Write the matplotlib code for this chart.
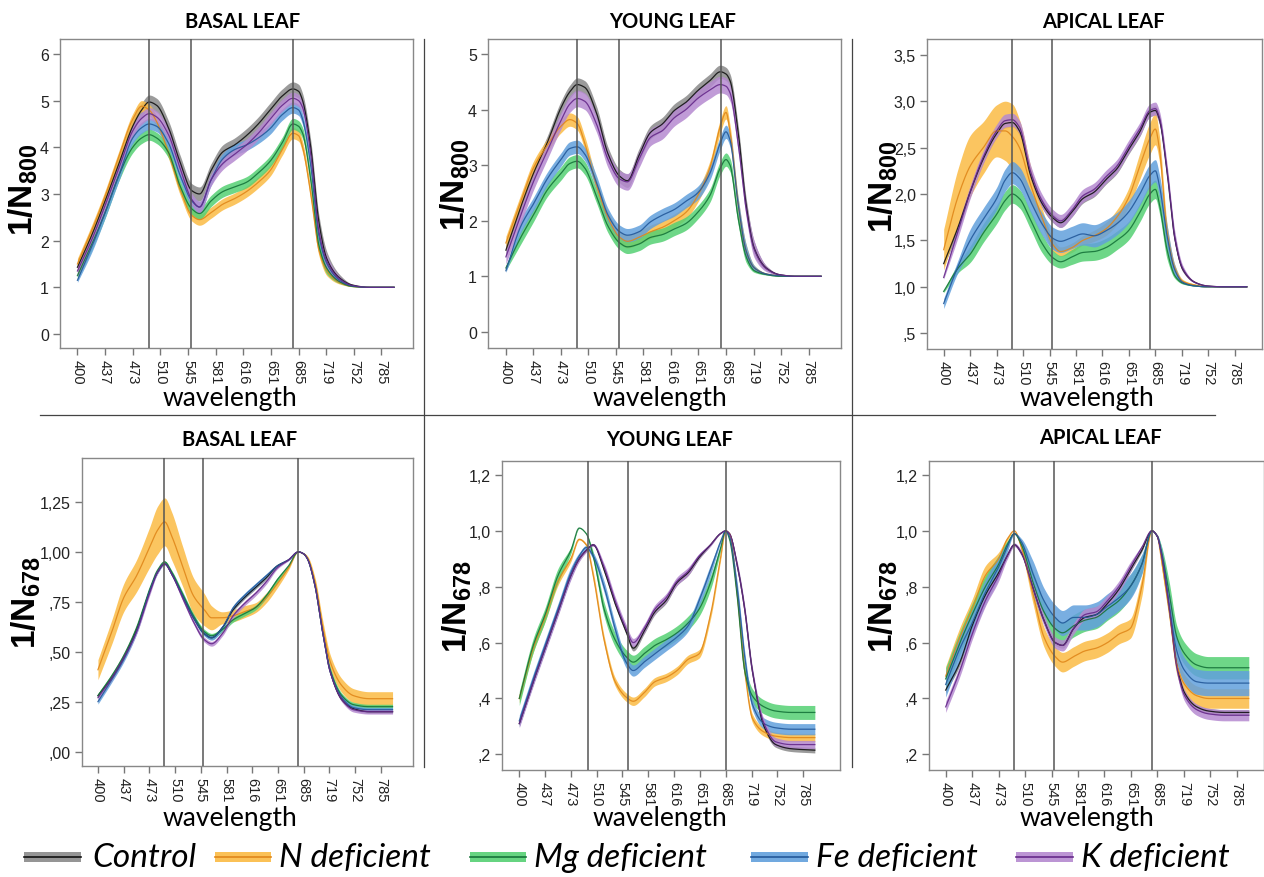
import numpy as np
import matplotlib
matplotlib.use("Agg")
import matplotlib.pyplot as plt
from matplotlib.patches import Rectangle

plt.rcParams['font.family'] = ['Liberation Sans', 'DejaVu Sans']
plt.rcParams['mathtext.fontset'] = 'custom'
plt.rcParams['mathtext.rm'] = 'Liberation Sans'
plt.rcParams['mathtext.bf'] = 'Liberation Sans:bold'

# ---------------- data ----------------
TICK_WL = [400, 437, 473, 510, 545, 581, 616, 651, 685, 719, 752, 785]
WL = [400, 420, 437, 455, 473, 485, 495, 505, 520, 535, 550, 560, 575, 590, 605,
      620, 635, 650, 665, 678, 685, 690, 700, 710, 720, 735, 750, 770, 800]

SERIES = ['Control', 'N deficient', 'Mg deficient', 'Fe deficient', 'K deficient']

# a1 basal leaf, 1/N800
A1_CONTROL = [1.43, 2.15, 2.85, 3.65, 4.45, 4.8, 4.97, 4.9, 4.43, 3.68, 3.07, 3.0, 3.5, 3.9, 4.05,
              4.25, 4.5, 4.8, 5.1, 5.25, 5.2, 5.0, 4.0, 2.4, 1.6, 1.2, 1.05, 1.0, 1.0]
A1_N = [1.5, 2.25, 2.95, 3.8, 4.6, 4.88, 4.8, 4.55, 3.9, 3.1, 2.54, 2.45, 2.6, 2.78, 2.9,
        3.05, 3.25, 3.5, 3.95, 4.3, 4.25, 4.0, 3.0, 1.8, 1.35, 1.1, 1.02, 1.0, 1.0]
A1_MG = [1.25, 1.95, 2.6, 3.4, 4.0, 4.2, 4.27, 4.2, 3.9, 3.17, 2.68, 2.58, 2.85, 3.05, 3.15,
         3.25, 3.45, 3.7, 4.1, 4.5, 4.45, 4.3, 3.3, 1.9, 1.4, 1.12, 1.02, 1.0, 1.0]
A1_FE = [1.15, 1.9, 2.6, 3.4, 4.2, 4.42, 4.5, 4.45, 4.1, 3.4, 2.85, 2.72, 3.3, 3.75, 3.95,
         4.05, 4.2, 4.4, 4.7, 4.85, 4.8, 4.6, 3.6, 2.1, 1.5, 1.15, 1.03, 1.0, 1.0]
A1_K = [1.35, 2.05, 2.75, 3.55, 4.35, 4.62, 4.72, 4.65, 4.28, 3.55, 2.88, 2.72, 3.3, 3.65, 3.85,
        4.05, 4.3, 4.6, 4.9, 5.05, 5.0, 4.85, 3.85, 2.2, 1.55, 1.18, 1.04, 1.0, 1.0]
A1_HW = [0.15, 0.12, 0.12, 0.12, 0.13]

# a2 young leaf, 1/N800
A2_CONTROL = [1.47, 2.25, 2.85, 3.4, 4.03, 4.32, 4.45, 4.4, 3.95, 3.2, 2.8, 2.72, 3.17, 3.59, 3.74,
              3.98, 4.13, 4.34, 4.52, 4.68, 4.64, 4.52, 3.6, 2.28, 1.5, 1.14, 1.03, 1.0, 1.0]
A2_N = [1.6, 2.35, 2.95, 3.35, 3.7, 3.82, 3.75, 3.4, 2.65, 2.05, 1.7, 1.63, 1.7, 1.8, 1.88,
        2.0, 2.15, 2.45, 2.95, 3.7, 3.95, 3.6, 2.3, 1.45, 1.15, 1.04, 1.01, 1.0, 1.0]
A2_MG = [1.15, 1.7, 2.1, 2.55, 2.85, 3.03, 3.07, 2.95, 2.45, 1.9, 1.6, 1.53, 1.58, 1.7, 1.75,
         1.85, 1.95, 2.15, 2.45, 2.95, 3.1, 3.0, 2.05, 1.35, 1.1, 1.03, 1.0, 1.0, 1.0]
A2_FE = [1.1, 1.9, 2.3, 2.75, 3.1, 3.3, 3.33, 3.2, 2.7, 2.1, 1.8, 1.74, 1.8, 1.98, 2.1,
         2.2, 2.35, 2.5, 2.85, 3.4, 3.6, 3.45, 2.3, 1.45, 1.15, 1.04, 1.01, 1.0, 1.0]
A2_K = [1.35, 2.1, 2.7, 3.25, 3.8, 4.1, 4.2, 4.15, 3.75, 3.1, 2.75, 2.7, 3.1, 3.5, 3.62,
        3.85, 4.0, 4.2, 4.35, 4.45, 4.42, 4.3, 3.4, 2.2, 1.48, 1.13, 1.03, 1.0, 1.0]
A2_HW = [0.12, 0.12, 0.12, 0.12, 0.15]

# a3 apical leaf, 1/N800
A3_CONTROL = [1.25, 1.64, 2.02, 2.38, 2.65, 2.76, 2.77, 2.68, 2.2, 1.9, 1.74, 1.69, 1.8, 1.95, 2.02,
              2.15, 2.27, 2.47, 2.67, 2.88, 2.9, 2.81, 2.24, 1.52, 1.19, 1.05, 1.01, 1.0, 1.0]
A3_N = [1.4, 1.97, 2.3, 2.5, 2.68, 2.68, 2.62, 2.5, 2.1, 1.75, 1.45, 1.38, 1.42, 1.5, 1.55,
        1.62, 1.75, 1.95, 2.3, 2.6, 2.7, 2.5, 1.6, 1.2, 1.06, 1.02, 1.0, 1.0, 1.0]
A3_MG = [0.95, 1.2, 1.35, 1.58, 1.78, 1.93, 2.0, 1.95, 1.72, 1.47, 1.31, 1.27, 1.32, 1.37, 1.38,
         1.42, 1.5, 1.6, 1.8, 2.0, 2.05, 1.9, 1.4, 1.12, 1.04, 1.01, 1.0, 1.0, 1.0]
A3_FE = [0.82, 1.22, 1.5, 1.73, 1.95, 2.15, 2.23, 2.17, 1.92, 1.68, 1.52, 1.49, 1.53, 1.57, 1.55,
         1.6, 1.68, 1.8, 2.0, 2.2, 2.25, 2.1, 1.55, 1.18, 1.05, 1.01, 1.0, 1.0, 1.0]
A3_K = [1.1, 1.6, 2.02, 2.4, 2.68, 2.79, 2.8, 2.72, 2.24, 1.93, 1.76, 1.71, 1.82, 1.98, 2.05,
        2.18, 2.3, 2.5, 2.7, 2.9, 2.92, 2.83, 2.26, 1.53, 1.2, 1.05, 1.01, 1.0, 1.0]
A3_N_HW = [0.22, 0.3, 0.33, 0.28, 0.28, 0.32, 0.35, 0.3, 0.2, 0.1, 0.07, 0.05, 0.05, 0.05, 0.06,
           0.07, 0.08, 0.1, 0.14, 0.17, 0.17, 0.14, 0.08, 0.04, 0.02, 0.01, 0.0, 0.0, 0.0]
A3_HW = [0.05, A3_N_HW, 0.1, 0.12, 0.07]

# b1 basal leaf, 1/N678
B1_CONTROL = [0.28, 0.37, 0.47, 0.61, 0.8, 0.9, 0.94, 0.89, 0.78, 0.67, 0.59, 0.57, 0.62, 0.71, 0.77,
              0.82, 0.87, 0.93, 0.96, 1.0, 0.99, 0.965, 0.83, 0.6, 0.4, 0.26, 0.215, 0.2, 0.2]
B1_N = [0.41, 0.6, 0.77, 0.88, 1.02, 1.11, 1.15, 1.08, 0.93, 0.78, 0.71, 0.67, 0.67, 0.68, 0.7,
        0.72, 0.77, 0.84, 0.92, 1.0, 0.99, 0.97, 0.85, 0.63, 0.45, 0.33, 0.28, 0.265, 0.265]
B1_MG = [0.28, 0.38, 0.48, 0.62, 0.81, 0.91, 0.95, 0.9, 0.79, 0.68, 0.6, 0.58, 0.61, 0.66, 0.69,
         0.72, 0.78, 0.86, 0.93, 1.0, 0.99, 0.965, 0.83, 0.6, 0.41, 0.28, 0.235, 0.225, 0.225]
B1_FE = [0.25, 0.36, 0.46, 0.6, 0.8, 0.9, 0.94, 0.89, 0.78, 0.67, 0.59, 0.57, 0.62, 0.72, 0.78,
         0.83, 0.88, 0.93, 0.96, 1.0, 0.99, 0.965, 0.83, 0.6, 0.4, 0.27, 0.22, 0.21, 0.21]
B1_K = [0.27, 0.37, 0.47, 0.6, 0.79, 0.9, 0.94, 0.89, 0.77, 0.65, 0.56, 0.54, 0.59, 0.68, 0.74,
        0.79, 0.85, 0.92, 0.96, 1.0, 0.99, 0.965, 0.83, 0.6, 0.4, 0.26, 0.21, 0.2, 0.2]
B1_N_HW = [0.05, 0.06, 0.07, 0.08, 0.1, 0.12, 0.12, 0.12, 0.1, 0.09, 0.08, 0.06, 0.03, 0.03, 0.03,
           0.025, 0.025, 0.02, 0.01, 0.0, 0.005, 0.01, 0.02, 0.03, 0.035, 0.035, 0.035, 0.035, 0.035]
B1_HW = [0.008, B1_N_HW, 0.012, 0.012, 0.012]

# b2 young leaf, 1/N678
B2_CONTROL = [0.31, 0.46, 0.58, 0.71, 0.84, 0.9, 0.93, 0.95, 0.86, 0.74, 0.64, 0.58, 0.64, 0.71, 0.75,
              0.815, 0.85, 0.905, 0.95, 0.99, 1.0, 0.99, 0.88, 0.72, 0.5, 0.3, 0.235, 0.22, 0.215]
B2_N = [0.4, 0.58, 0.69, 0.82, 0.9, 0.97, 0.95, 0.84, 0.61, 0.46, 0.405, 0.39, 0.42, 0.46, 0.475,
        0.5, 0.54, 0.56, 0.7, 0.9, 1.0, 0.99, 0.78, 0.5, 0.33, 0.28, 0.265, 0.26, 0.26]
B2_MG = [0.4, 0.59, 0.7, 0.84, 0.93, 1.01, 0.99, 0.91, 0.72, 0.61, 0.55, 0.53, 0.56, 0.59, 0.61,
         0.635, 0.67, 0.72, 0.815, 0.935, 1.0, 0.97, 0.77, 0.5, 0.41, 0.37, 0.355, 0.35, 0.35]
B2_FE = [0.32, 0.47, 0.59, 0.72, 0.85, 0.91, 0.94, 0.91, 0.8, 0.65, 0.53, 0.5, 0.53, 0.56, 0.59,
         0.62, 0.66, 0.75, 0.86, 0.96, 1.0, 0.98, 0.8, 0.55, 0.38, 0.31, 0.295, 0.29, 0.29]
B2_K = [0.31, 0.46, 0.58, 0.71, 0.84, 0.9, 0.93, 0.95, 0.87, 0.75, 0.65, 0.6, 0.65, 0.72, 0.76,
        0.82, 0.855, 0.91, 0.95, 0.99, 1.0, 0.99, 0.88, 0.72, 0.5, 0.31, 0.245, 0.235, 0.235]
B2_HW = [0.01, 0.015, 0.025, 0.02, 0.015]

# b3 apical leaf, 1/N678
B3_CONTROL = [0.43, 0.53, 0.66, 0.77, 0.85, 0.91, 0.95, 0.92, 0.8, 0.68, 0.6, 0.59, 0.65, 0.69, 0.7,
              0.74, 0.79, 0.86, 0.93, 1.0, 0.98, 0.92, 0.73, 0.52, 0.42, 0.37, 0.355, 0.35, 0.35]
B3_N = [0.48, 0.62, 0.72, 0.84, 0.9, 0.97, 1.0, 0.94, 0.78, 0.62, 0.55, 0.53, 0.55, 0.57, 0.58,
        0.6, 0.63, 0.65, 0.8, 1.0, 0.98, 0.9, 0.72, 0.52, 0.45, 0.41, 0.4, 0.4, 0.4]
B3_MG = [0.47, 0.6, 0.7, 0.8, 0.88, 0.95, 0.99, 0.95, 0.82, 0.71, 0.65, 0.635, 0.66, 0.68, 0.69,
         0.72, 0.75, 0.8, 0.88, 1.0, 0.98, 0.93, 0.78, 0.62, 0.56, 0.52, 0.51, 0.51, 0.51]
B3_FE = [0.45, 0.58, 0.67, 0.78, 0.87, 0.94, 0.99, 0.96, 0.85, 0.75, 0.69, 0.67, 0.69, 0.69, 0.7,
         0.73, 0.76, 0.8, 0.88, 1.0, 0.98, 0.92, 0.74, 0.57, 0.5, 0.46, 0.455, 0.455, 0.455]
B3_K = [0.37, 0.5, 0.63, 0.75, 0.84, 0.91, 0.95, 0.92, 0.8, 0.68, 0.6, 0.59, 0.65, 0.7, 0.71,
        0.75, 0.8, 0.87, 0.94, 1.0, 0.98, 0.92, 0.73, 0.51, 0.41, 0.36, 0.345, 0.34, 0.34]
B3_HW = [0.01, 0.035, 0.04, 0.045, 0.02]

A_YTICKS1 = [0, 1, 2, 3, 4, 5, 6]
A_YTICKS2 = [0, 1, 2, 3, 4, 5]
A_YTICKS3 = [0.5, 1.0, 1.5, 2.0, 2.5, 3.0, 3.5]
A_YLABELS3 = [',5', '1,0', '1,5', '2,0', '2,5', '3,0', '3,5']
B_YTICKS1 = [0.0, 0.25, 0.5, 0.75, 1.0, 1.25]
B_YLABELS1 = [',00', ',25', ',50', ',75', '1,00', '1,25']
B_YTICKS2 = [0.2, 0.4, 0.6, 0.8, 1.0, 1.2]
B_YLABELS2 = [',2', ',4', ',6', ',8', '1,0', '1,2']

# ---------------- style ----------------
BAND_COLORS = ['#8a8a8a', '#fbbb44', '#55d073', '#62a0dc', '#b58ad0']
LINE_COLORS = ['#111111', '#e0871a', '#16743a', '#24599a', '#66298a']

W, H = 1264, 878


def pos(wl):
    wl = np.asarray(wl, float)
    p = np.interp(wl, TICK_WL, np.arange(len(TICK_WL), dtype=float))
    hi = wl > TICK_WL[-1]
    p[hi] = len(TICK_WL) - 1 + (wl[hi] - TICK_WL[-1]) / 33.0
    return p


def smooth(x, y, n=500):
    """Monotone cubic (PCHIP) rendering of a polyline through the read points."""
    x = np.asarray(x, float)
    y = np.asarray(y, float)
    h = np.diff(x)
    d = np.diff(y) / h
    m = np.zeros_like(y)
    m[0], m[-1] = d[0], d[-1]
    for k in range(1, len(y) - 1):
        if d[k - 1] * d[k] > 0:
            w1 = 2 * h[k] + h[k - 1]
            w2 = h[k] + 2 * h[k - 1]
            m[k] = (w1 + w2) / (w1 / d[k - 1] + w2 / d[k])
    xs = np.linspace(x[0], x[-1], n)
    i = np.clip(np.searchsorted(x, xs, side='right') - 1, 0, len(x) - 2)
    t = (xs - x[i]) / h[i]
    h00 = 2 * t**3 - 3 * t**2 + 1
    h10 = t**3 - 2 * t**2 + t
    h01 = -2 * t**3 + 3 * t**2
    h11 = t**3 - t**2
    ys = h00 * y[i] + h10 * h[i] * m[i] + h01 * y[i + 1] + h11 * h[i] * m[i + 1]
    return xs, ys


PANELS = [
    dict(lab='a1', data=[A1_CONTROL, A1_N, A1_MG, A1_FE, A1_K], hw=A1_HW, taper=0.4,
         box=(60, 40, 413, 349), xlim=(-0.63, 12.14), ylim=(-0.30, 6.32),
         yt=A_YTICKS1, ytl=[str(v) for v in A_YTICKS1], vl=(495, 549, 678),
         title='BASAL LEAF', txy=(243, 22), sub='800', yxy=(23, 190), lxy=(70, 72), xxy=(230, 399)),
    dict(lab='a2', data=[A2_CONTROL, A2_N, A2_MG, A2_FE, A2_K], hw=A2_HW, taper=0.4,
         box=(488, 40, 841, 349), xlim=(-0.65, 12.18), ylim=(-0.29, 5.27),
         yt=A_YTICKS2, ytl=[str(v) for v in A_YTICKS2], vl=(495, 549, 679),
         title='YOUNG LEAF', txy=(673, 22), sub='800', yxy=(455, 185), lxy=(497, 72), xxy=(660, 399)),
    dict(lab='a3', data=[A3_CONTROL, A3_N, A3_MG, A3_FE, A3_K], hw=A3_HW, taper=0.4,
         box=(927, 40, 1262, 350), xlim=(-0.63, 12.03), ylim=(0.33, 3.67),
         yt=A_YTICKS3, ytl=A_YLABELS3, vl=(495, 549, 678),
         title='APICAL LEAF', txy=(1103, 22), sub='800', yxy=(883, 187), lxy=(936, 72), xxy=(1087, 399)),
    dict(lab='b1', data=[B1_CONTROL, B1_N, B1_MG, B1_FE, B1_K], hw=B1_HW, taper=0.15,
         box=(82, 459, 413, 767), xlim=(-0.62, 12.25), ylim=(-0.072, 1.47),
         yt=B_YTICKS1, ytl=B_YLABELS1, vl=(494, 548, 678),
         title='BASAL LEAF', txy=(240, 440), sub='678', yxy=(26, 603), lxy=(92, 492), xxy=(230, 819)),
    dict(lab='b2', data=[B2_CONTROL, B2_N, B2_MG, B2_FE, B2_K], hw=B2_HW, taper=0.15,
         box=(502, 462, 840, 771), xlim=(-0.67, 12.43), ylim=(0.144, 1.25),
         yt=B_YTICKS2, ytl=B_YLABELS2, vl=(497, 553, 686),
         title='YOUNG LEAF', txy=(670, 440), sub='678', yxy=(457, 607), lxy=(512, 490), xxy=(660, 819)),
    dict(lab='b3', data=[B3_CONTROL, B3_N, B3_MG, B3_FE, B3_K], hw=B3_HW, taper=0.15,
         box=(929, 462, 1264, 771), xlim=(-0.63, 12.03), ylim=(0.144, 1.25),
         yt=B_YTICKS2, ytl=B_YLABELS2, vl=(494, 549, 678),
         title='APICAL LEAF', txy=(1100, 438), sub='678', yxy=(883, 607), lxy=(939, 492), xxy=(1087, 819)),
]

fig = plt.figure(figsize=(W / 100, H / 100), dpi=100)
ov = fig.add_axes([0, 0, 1, 1])
ov.set_xlim(0, W)
ov.set_ylim(H, 0)
ov.axis('off')

# separators
ov.plot([40, 1215], [416, 416], color='#444444', lw=0.9)
ov.plot([424, 424], [40, 768], color='#444444', lw=0.9)
ov.plot([852, 852], [40, 768], color='#444444', lw=0.9)

xs = pos(WL)
for p in PANELS:
    l, t, r, b = p['box']
    ax = fig.add_axes([l / W, 1 - b / H, (r - l) / W, (b - t) / H])
    for v, hw, bc in zip(p['data'], p['hw'], BAND_COLORS):
        v = np.asarray(v, float)
        if np.ndim(hw) == 0:
            h = hw * np.clip(np.abs(v - 1.0) / p['taper'], 0, 1)
        else:
            h = np.asarray(hw, float)
        sx, lo = smooth(xs, v - h)
        _, hi = smooth(xs, v + h)
        ax.fill_between(sx, lo, hi, color=bc, alpha=0.85, lw=0)
    for v, lc in zip(p['data'], LINE_COLORS):
        sx, sy = smooth(xs, v)
        ax.plot(sx, sy, color=lc, lw=0.9, alpha=0.9)
    for w in p['vl']:
        ax.axvline(pos([w])[0], color='#555555', lw=1.1, zorder=5)
    ax.set_xlim(*p['xlim'])
    ax.set_ylim(*p['ylim'])
    ax.set_xticks(range(len(TICK_WL)))
    ax.set_xticklabels([str(v) for v in TICK_WL], rotation=-90, fontsize=10.5)
    ax.set_yticks(p['yt'])
    ax.set_yticklabels(p['ytl'], fontsize=11.5)
    ax.tick_params(direction='out', length=5, width=1, color='#777777', pad=3,
                   labelcolor='#222222')
    for s in ax.spines.values():
        s.set_color('#888888')
        s.set_linewidth(1.0)
    ov.text(p['txy'][0], p['txy'][1], p['title'], ha='center', va='center',
            fontsize=14.5, fontweight='bold', family=['Lato', 'DejaVu Sans'])
    ov.text(p['yxy'][0], p['yxy'][1], r'$\mathbf{1/N_{%s}}$' % p['sub'], rotation=90,
            ha='center', va='center', fontsize=24)
    ov.text(p['lxy'][0], p['lxy'][1], p['lab'], ha='left', va='center', fontsize=25,
            fontweight='black', style='italic', family=['Lato', 'DejaVu Sans'])
    ov.text(p['xxy'][0], p['xxy'][1], 'wavelength', ha='center', va='center', fontsize=19,
            family=['Lato', 'DejaVu Sans'])

# legend
LEG = [(24, 81, 92), (215, 271, 279), (470, 526, 534), (751, 808, 816), (1016, 1073, 1081)]
for (x0, x1, tx), name, bc, lc in zip(LEG, SERIES, BAND_COLORS, LINE_COLORS):
    ov.add_patch(Rectangle((x0, 853), x1 - x0, 10, color=bc, alpha=0.9, lw=0))
    ov.plot([x0, x1], [858, 858], color=lc, lw=1.2)
    ov.text(tx, 858, name, ha='left', va='center', fontsize=24, style='italic',
            family=['Liberation Sans Narrow', 'Lato', 'DejaVu Sans'])

fig.savefig('out.png', dpi=100)
